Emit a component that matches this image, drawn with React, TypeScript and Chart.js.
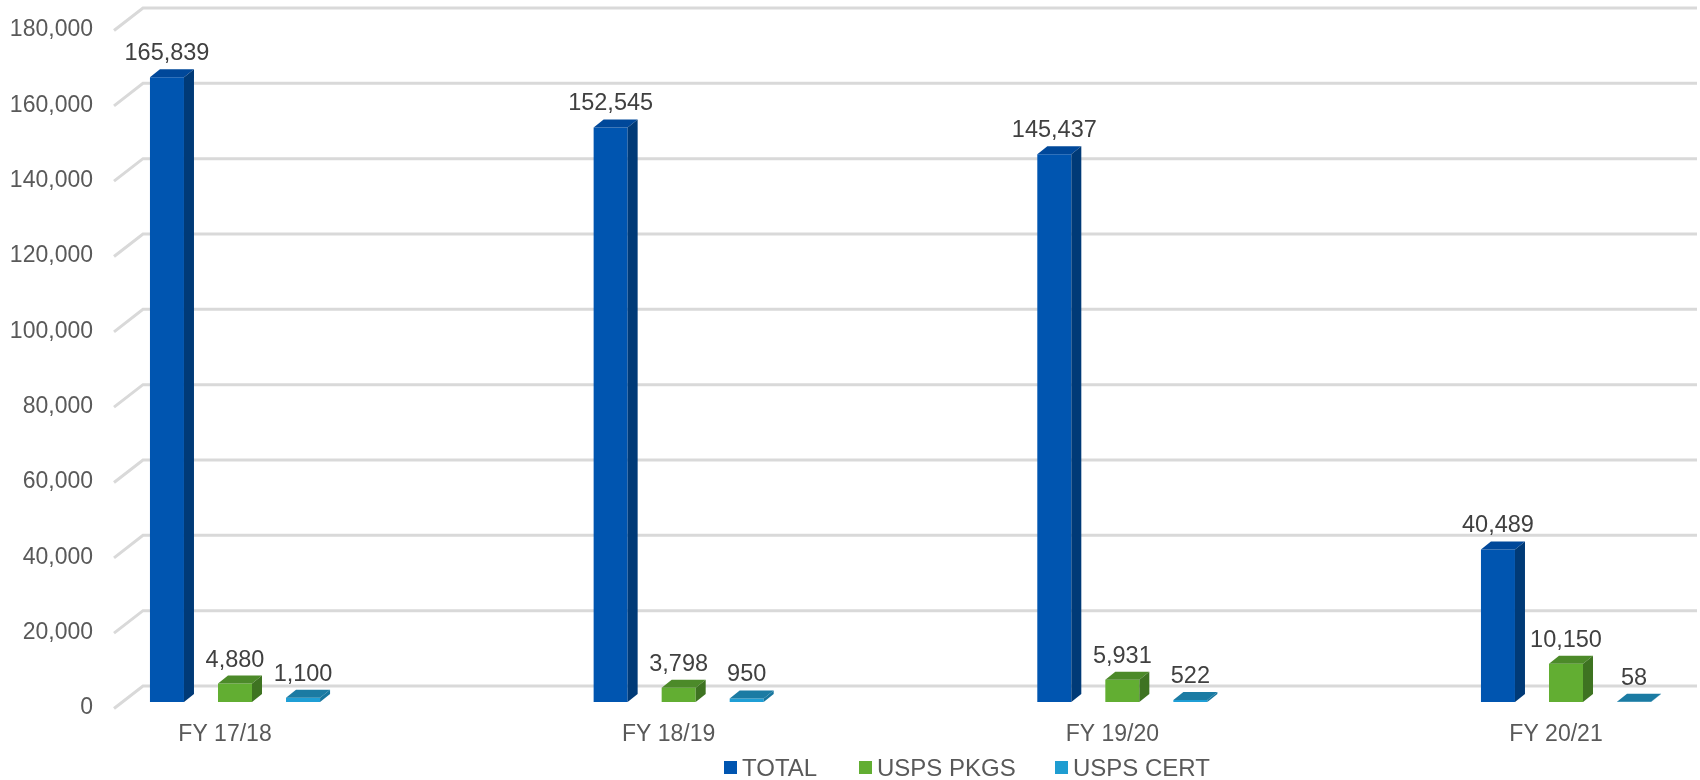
import React, { useEffect, useRef } from 'react';
import { Chart, registerables } from 'chart.js';

Chart.register(...registerables);

// ---- data ----
const categories = ['FY 17/18', 'FY 18/19', 'FY 19/20', 'FY 20/21'];
const seriesNames = ['TOTAL', 'USPS PKGS', 'USPS CERT'];
const totalValues = [165839, 152545, 145437, 40489];
const pkgsValues = [4880, 3798, 5931, 10150];
const certValues = [1100, 950, 522, 58];
const yTicks = [0, 20000, 40000, 60000, 80000, 100000, 120000, 140000, 160000, 180000];

// ---- style ----
const FONT = "'Liberation Sans', Arial, Helvetica, sans-serif";
const frontColors = ['#0055B0', '#62AE32', '#1F9FD6'];
const sideColors = ['#003A77', '#3E7321', '#17769E'];
const topColors = ['#00489A', '#4C8A29', '#1B7BA3'];
const legendColors = ['#0055B0', '#62AE32', '#1F9DD1'];
const AXIS_COLOR = '#595959';
const LABEL_COLOR = '#404040';
const BAR_DX = 10;
const BAR_DY = 8;
const FLOOR_LEFT = 114;
const WALL_DX = 29;
const FRONT_OFF = 6.5;
const BACK_OFF = 16;
const WALL_RIGHT = 1697;

const fmt = (v: number) => v.toLocaleString('en-US');

const threeDPlugin = {
  id: 'threeD',
  beforeDatasetsDraw(chart: any) {
    const { ctx } = chart;
    const y = chart.scales.y;
    ctx.save();
    ctx.strokeStyle = '#D9D9D9';
    ctx.lineWidth = 3;
    ctx.lineJoin = 'miter';
    yTicks.forEach((v) => {
      const yb = y.getPixelForValue(v);
      ctx.beginPath();
      ctx.moveTo(FLOOR_LEFT, yb + FRONT_OFF);
      ctx.lineTo(FLOOR_LEFT + WALL_DX, yb - BACK_OFF);
      ctx.lineTo(WALL_RIGHT, yb - BACK_OFF);
      ctx.stroke();
    });
    ctx.restore();
  },
  afterDatasetsDraw(chart: any) {
    const { ctx } = chart;
    ctx.save();
    chart.data.datasets.forEach((ds: any, di: number) => {
      const meta = chart.getDatasetMeta(di);
      meta.data.forEach((bar: any, i: number) => {
        const { x, y, base, width } = bar.getProps(['x', 'y', 'base', 'width'], true);
        const l = x - width / 2;
        const r = x + width / 2;
        // top face
        ctx.fillStyle = topColors[di];
        ctx.beginPath();
        ctx.moveTo(l, y);
        ctx.lineTo(l + BAR_DX, y - BAR_DY);
        ctx.lineTo(r + BAR_DX, y - BAR_DY);
        ctx.lineTo(r, y);
        ctx.closePath();
        ctx.fill();
        // side face
        ctx.fillStyle = sideColors[di];
        ctx.beginPath();
        ctx.moveTo(r, y);
        ctx.lineTo(r + BAR_DX, y - BAR_DY);
        ctx.lineTo(r + BAR_DX, base - BAR_DY);
        ctx.lineTo(r, base);
        ctx.closePath();
        ctx.fill();
        // value label
        ctx.fillStyle = LABEL_COLOR;
        ctx.font = `23.5px ${FONT}`;
        ctx.textAlign = 'center';
        ctx.textBaseline = 'alphabetic';
        ctx.fillText(fmt(ds.data[i]), x, y - 17);
      });
    });
    ctx.restore();
  },
};

export default function App() {
  const canvasRef = useRef<HTMLCanvasElement | null>(null);

  useEffect(() => {
    document.body.style.margin = '0';
    const canvas = canvasRef.current;
    if (!canvas) return;
    const values = [totalValues, pkgsValues, certValues];
    const chart = new Chart(canvas, {
      type: 'bar',
      data: {
        labels: categories,
        datasets: seriesNames.map((name, i) => ({
          label: name,
          data: values[i],
          backgroundColor: frontColors[i],
          borderWidth: 0,
          barPercentage: 0.5,
          categoryPercentage: 0.46,
          clip: false as any,
        })),
      },
      options: {
        responsive: false,
        animation: false,
        devicePixelRatio: 1,
        layout: { padding: { left: 10, right: 134, top: 24, bottom: 32 } },
        plugins: {
          legend: { display: false },
          tooltip: { enabled: false },
        },
        scales: {
          x: {
            type: 'category',
            offset: false,
            grid: { display: false, drawTicks: false },
            border: { display: false },
            ticks: {
              color: AXIS_COLOR,
              font: { family: FONT, size: 23 },
              padding: 19,
              labelOffset: -10,
              maxRotation: 0,
              autoSkip: false,
            },
            afterFit: (s: any) => {
              s.height = 46;
              s.paddingLeft = 0;
              s.paddingRight = 0;
            },
          },
          y: {
            min: 0,
            max: 180000,
            grid: { display: false, drawTicks: false },
            border: { display: false },
            ticks: {
              stepSize: 20000,
              color: AXIS_COLOR,
              font: { family: FONT, size: 23 },
              padding: 142,
              labelOffset: 6,
              callback: (v: any) => fmt(Number(v)),
            },
            afterFit: (s: any) => {
              s.width = 225;
              s.paddingTop = 0;
              s.paddingBottom = 0;
            },
          },
        },
      },
      plugins: [threeDPlugin],
    });
    return () => chart.destroy();
  }, []);

  const legendLefts = [724, 859, 1055];

  return (
    <div style={{ position: 'relative', width: 1700, height: 780, overflow: 'hidden', background: '#fff' }}>
      <canvas ref={canvasRef} width={1700} height={780} style={{ display: 'block', position: 'absolute', left: 0, top: 0 }} />
      {seriesNames.map((name, i) => (
        <div
          key={name}
          style={{
            position: 'absolute',
            left: legendLefts[i],
            top: 754,
            height: 27,
            display: 'flex',
            alignItems: 'center',
            fontFamily: FONT,
            fontSize: 24,
            color: AXIS_COLOR,
            whiteSpace: 'nowrap',
          }}
        >
          <span style={{ display: 'inline-block', width: 13, height: 13, background: legendColors[i], marginRight: 5 }} />
          <span>{name}</span>
        </div>
      ))}
    </div>
  );
}
